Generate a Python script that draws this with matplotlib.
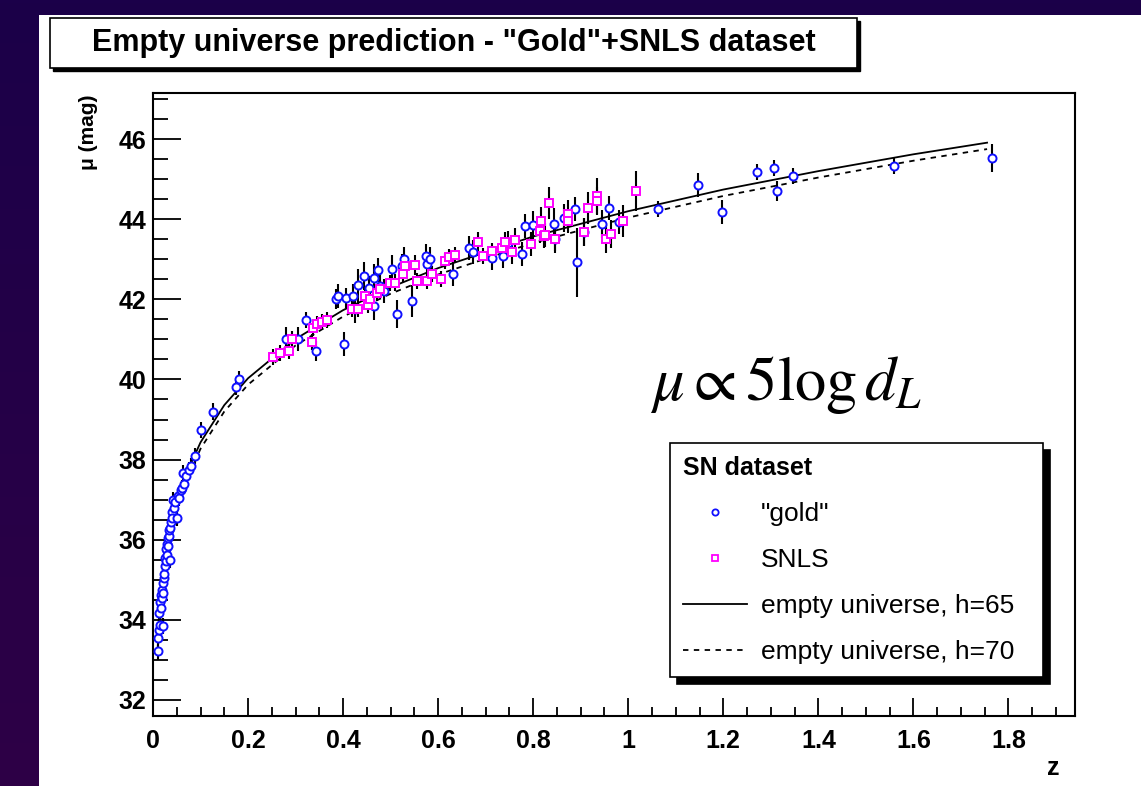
import numpy as np
import matplotlib
matplotlib.use("Agg")
import matplotlib.pyplot as plt
from matplotlib.lines import Line2D
from matplotlib.patches import Rectangle
from matplotlib.ticker import MultipleLocator

plt.rcParams['font.family'] = ['Liberation Sans', 'DejaVu Sans']
plt.rcParams['mathtext.fontset'] = 'stix'

# "gold" sample: redshift, distance modulus, error
gold_z = [0.011, 0.010, 0.012, 0.014, 0.013, 0.015, 0.016, 0.017, 0.018, 0.019,
          0.020, 0.021, 0.021, 0.023, 0.024, 0.026, 0.025, 0.027, 0.028, 0.029,
          0.030, 0.031, 0.033, 0.032, 0.034, 0.036, 0.036, 0.038, 0.039, 0.041,
          0.043, 0.045, 0.047, 0.050, 0.052, 0.055, 0.058, 0.060, 0.063, 0.066,
          0.070, 0.075, 0.080, 0.088, 0.102, 0.127, 0.175, 0.182,
          0.279, 0.306, 0.321, 0.343, 0.385, 0.390, 0.402, 0.406, 0.420, 0.425,
          0.432, 0.443, 0.455, 0.464, 0.464, 0.474, 0.478, 0.485, 0.502, 0.513,
          0.524, 0.528, 0.545, 0.576, 0.575, 0.583, 0.632, 0.664, 0.673, 0.713,
          0.737, 0.746, 0.776, 0.783, 0.800, 0.843, 0.846, 0.864, 0.888, 0.892,
          0.906, 0.945, 0.959, 0.980, 1.062, 1.146, 1.197, 1.271, 1.306, 1.312,
          1.347, 1.560, 1.766]
gold_mu = [33.21, 33.55, 33.75, 33.88, 34.18, 34.45, 34.62, 34.30, 34.75, 34.55,
           34.92, 34.68, 33.85, 35.05, 35.15, 35.35, 35.55, 35.48, 35.78, 35.62,
           35.90, 36.05, 36.10, 35.85, 36.25, 35.50, 36.30, 36.45, 36.68, 36.55,
           37.00, 36.80, 36.95, 36.54, 37.10, 37.05, 37.25, 37.30, 37.67, 37.40,
           37.60, 37.75, 37.85, 38.08, 38.73, 39.20, 39.80, 40.00,
           41.02, 41.02, 41.48, 40.72, 42.00, 42.08, 40.89, 42.04, 42.08, 41.75,
           42.35, 42.58, 42.28, 42.52, 41.83, 42.73, 42.33, 42.20, 42.75, 41.63,
           42.83, 43.00, 41.96, 42.88, 43.08, 43.00, 42.63, 43.29, 43.19, 43.04,
           43.08, 43.40, 43.14, 43.83, 43.85, 43.88, 43.50, 44.04, 44.25, 42.92,
           43.67, 43.88, 44.29, 43.92, 44.25, 44.86, 44.19, 45.19, 45.28, 44.71,
           45.07, 45.32, 45.52]
gold_err = [0.20] * 48 + [
           0.30, 0.30, 0.20, 0.25, 0.25, 0.30, 0.30, 0.25, 0.30, 0.35,
           0.40, 0.35, 0.30, 0.35, 0.35, 0.30, 0.30, 0.30, 0.35, 0.35,
           0.30, 0.30, 0.40, 0.30, 0.30, 0.30, 0.30, 0.30, 0.30, 0.30,
           0.30, 0.30, 0.30, 0.30, 0.35, 0.40, 0.35, 0.35, 0.30, 0.85,
           0.35, 0.35, 0.30, 0.30, 0.20, 0.30, 0.30, 0.20, 0.20, 0.25,
           0.20, 0.20, 0.35]

# SNLS sample
snls_z = [0.252, 0.267, 0.287, 0.292, 0.335, 0.337, 0.345, 0.355, 0.367, 0.418,
          0.432, 0.446, 0.453, 0.457, 0.471, 0.478, 0.499, 0.509, 0.527, 0.531,
          0.552, 0.555, 0.576, 0.587, 0.606, 0.615, 0.622, 0.636, 0.683, 0.695,
          0.713, 0.734, 0.741, 0.755, 0.761, 0.795, 0.815, 0.816, 0.822, 0.825,
          0.834, 0.846, 0.874, 0.874, 0.906, 0.915, 0.934, 0.934, 0.954, 0.964,
          0.989, 1.017]
snls_mu = [40.57, 40.67, 40.72, 41.00, 40.93, 41.29, 41.38, 41.43, 41.48, 41.75,
           41.75, 42.08, 41.85, 42.00, 42.17, 42.27, 42.40, 42.42, 42.63, 42.83,
           42.85, 42.46, 42.46, 42.63, 42.50, 42.96, 43.05, 43.10, 43.42, 43.07,
           43.21, 43.29, 43.42, 43.17, 43.48, 43.38, 43.71, 43.96, 43.58, 43.60,
           44.40, 43.50, 44.13, 43.96, 43.67, 44.28, 44.58, 44.46, 43.50, 43.63,
           43.96, 44.71]
snls_err = [0.20, 0.20, 0.20, 0.20, 0.20, 0.20, 0.20, 0.20, 0.20, 0.20,
            0.20, 0.25, 0.20, 0.20, 0.20, 0.20, 0.20, 0.20, 0.20, 0.25,
            0.25, 0.20, 0.20, 0.20, 0.20, 0.20, 0.20, 0.20, 0.25, 0.20,
            0.20, 0.25, 0.25, 0.30, 0.30, 0.30, 0.30, 0.35, 0.30, 0.30,
            0.40, 0.30, 0.35, 0.30, 0.35, 0.40, 0.45, 0.35, 0.35, 0.35,
            0.40, 0.50]

# empty universe curves
curve_z = [0.01, 0.02, 0.03, 0.05, 0.075, 0.1, 0.15, 0.2, 0.3, 0.4, 0.5, 0.6,
           0.8, 1.0, 1.2, 1.4, 1.6, 1.755]
curve_h65 = [33.33, 34.85, 35.74, 36.87, 37.77, 38.43, 39.36, 40.03, 41.01, 41.73,
             42.30, 42.78, 43.57, 44.20, 44.74, 45.20, 45.62, 45.91]
curve_h70 = [33.17, 34.69, 35.58, 36.71, 37.61, 38.27, 39.20, 39.87, 40.85, 41.57,
             42.14, 42.62, 43.41, 44.04, 44.58, 45.04, 45.46, 45.75]

W, H = 1141, 786
fig = plt.figure(figsize=(W / 100, H / 100), dpi=100)

# purple slide background with a soft vertical gradient
bg = fig.add_axes([0, 0, 1, 1], zorder=-10)
grad = np.linspace(0, 1, 256)[:, None]
top_c = np.array([27, 0, 73]) / 255
bot_c = np.array([46, 0, 70]) / 255
bg.imshow(top_c + grad[:, :, None] * (bot_c - top_c), aspect='auto',
          extent=[0, 1, 0, 1])
bg.set_axis_off()
fig.add_artist(Rectangle((39 / W, 0), 1 - 39 / W, (H - 15) / H,
                         transform=fig.transFigure, facecolor='white',
                         edgecolor='none', zorder=-5))

# title box with shadow
tx0, ty0, tw, th = 50 / W, 1 - 68 / H, 807 / W, 50 / H
fig.add_artist(Rectangle((tx0 + 3 / W, ty0 - 3 / H), tw, th, transform=fig.transFigure,
                         facecolor='black', edgecolor='black', zorder=1))
fig.add_artist(Rectangle((tx0, ty0), tw, th, transform=fig.transFigure,
                         facecolor='white', edgecolor='black', lw=1.2, zorder=2))
fig.text(tx0 + tw / 2, ty0 + th / 2, 'Empty universe prediction - "Gold"+SNLS dataset',
         ha='center', va='center', fontsize=22, fontweight='bold', zorder=3)

ax = fig.add_axes([153 / W, 1 - 716 / H, (1075 - 153) / W, (716 - 93) / H])
ax.set_xlim(0, 1.94)
ax.set_ylim(31.6, 47.15)

ax.plot(curve_z, curve_h65, color='black', lw=1.3, zorder=2)
ax.plot(curve_z, curve_h70, color='black', lw=1.3, ls=(0, (3, 3)), zorder=2)

ax.errorbar(gold_z, gold_mu, yerr=gold_err, fmt='none', ecolor='black',
            elinewidth=1.5, capsize=0, zorder=3)
ax.errorbar(snls_z, snls_mu, yerr=snls_err, fmt='none', ecolor='black',
            elinewidth=1.5, capsize=0, zorder=3)
ax.plot(gold_z, gold_mu, 'o', ms=5.8, mfc='white', mec='#1010ff', mew=1.4,
        ls='none', zorder=4)
ax.plot(snls_z, snls_mu, 's', ms=5.8, mfc='white', mec='#ff00ff', mew=1.4,
        ls='none', zorder=5)

ax.xaxis.set_minor_locator(MultipleLocator(0.05))
ax.yaxis.set_major_locator(MultipleLocator(2))
ax.yaxis.set_minor_locator(MultipleLocator(0.5))
ax.set_xticks([0, 0.2, 0.4, 0.6, 0.8, 1.0, 1.2, 1.4, 1.6, 1.8])
ax.set_xticklabels(['0', '0.2', '0.4', '0.6', '0.8', '1', '1.2', '1.4', '1.6', '1.8'])
ax.tick_params(axis='both', which='both', direction='in', top=False, right=False,
               width=1.3, labelsize=18)
ax.tick_params(axis='y', which='major', length=20, pad=5)
ax.tick_params(axis='y', which='minor', length=11)
ax.tick_params(axis='x', which='major', length=13, pad=9)
ax.tick_params(axis='x', which='minor', length=6.5)
for lab in ax.get_xticklabels() + ax.get_yticklabels():
    lab.set_fontweight('bold')
for sp in ax.spines.values():
    sp.set_linewidth(1.5)

fig.text(88 / W, 1 - 95 / H, 'μ (mag)', rotation=90, ha='center', va='top',
         fontsize=15, fontweight='bold')
fig.text(1060 / W, 1 - 768 / H, 'z', ha='right', va='center', fontsize=18,
         fontweight='bold')

fig.text(650 / W, 1 - 400 / H, r'$\mu \propto 5\log d_L$', fontsize=45,
         ha='left', va='baseline')

handles = [
    Line2D([], [], marker='o', ls='none', ms=4.5, mfc='white', mec='#1010ff', mew=1.3),
    Line2D([], [], marker='s', ls='none', ms=4.5, mfc='white', mec='#ff00ff', mew=1.3),
    Line2D([], [], color='black', lw=1.3),
    Line2D([], [], color='black', lw=1.3, ls=(0, (3, 3))),
]
labels = ['"gold"', 'SNLS', 'empty universe, h=65', 'empty universe, h=70']
x0 = (670 - 153) / 922
x1 = (1043 - 153) / 922
ytop = (716 - 443) / 623
leg = ax.legend(handles, labels, title='SN dataset', loc='upper left',
                bbox_to_anchor=(x0, ytop - 0.3, x1 - x0, 0.3), mode='expand',
                fontsize=19, title_fontproperties={'weight': 'bold', 'size': 18},
                alignment='left', frameon=True, fancybox=False, framealpha=1,
                edgecolor='black', handlelength=2.4, handletextpad=0.55,
                labelspacing=0.83, borderpad=0.5, borderaxespad=0,
                shadow={'ox': 5, 'oy': -5, 'facecolor': 'black',
                        'edgecolor': 'black', 'alpha': 1})
leg.get_frame().set_linewidth(1.2)

fig.savefig('out.png', dpi=100)
